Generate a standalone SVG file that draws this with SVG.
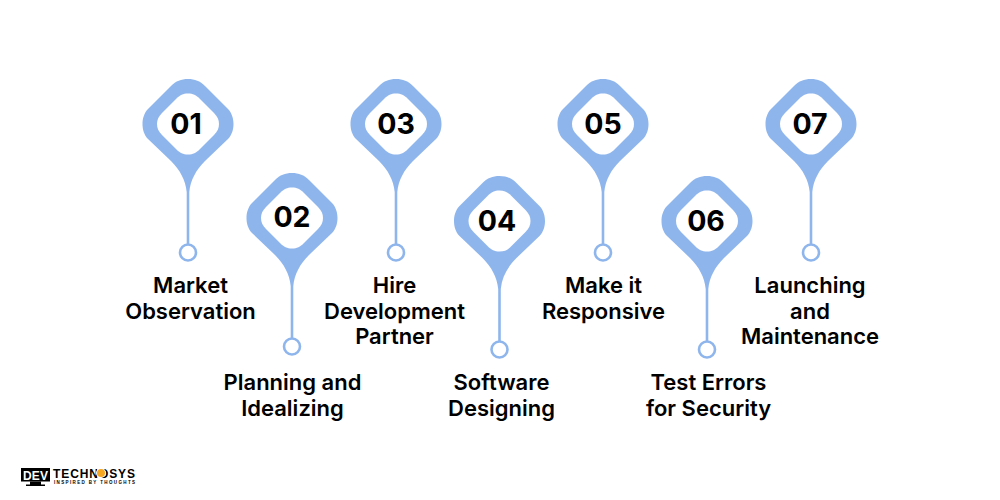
<svg xmlns="http://www.w3.org/2000/svg" width="1000" height="500" viewBox="0 0 1000 500">
<style>
.o{fill:#8fb6ec}
.i{fill:#fff}
.c{fill:#fff;stroke:#8fb6ec;stroke-width:2.6}
.n{font:700 28.500px "Inter","Liberation Sans",sans-serif;fill:#000;text-anchor:middle}
.t{font:600 22px "Inter","Liberation Sans",sans-serif;fill:#000;text-anchor:middle}
.l{font-family:"Liberation Sans",sans-serif;font-weight:700;fill:#000}
</style>
<defs>
<g id="pin">
<path class="o" d="M0,-45C7,-45 12,-43 17,-38L40,-15C44,-11 45.5,-5 45.5,0C45.5,5 44,11 40,15L17,37C8,46 2.500,56 1.300,68L1.300,122L-1.300,122L-1.300,68C-2.500,56 -8,46 -17,37L-40,15C-44,11 -45.500,5 -45.500,0C-45.500,-5 -44,-11 -40,-15L-17,-38C-12,-43 -7,-45 0,-45Z"/>
<path class="i" d="M0,-30.500C5,-30.500 8,-29 12,-25L26,-11C29.500,-7.500 31,-4 31,0C31,4 29.500,7.500 26,11L12,25C8,29 5,30.500 0,30.500C-5,30.500 -8,29 -12,25L-26,11C-29.500,7.500 -31,4 -31,0C-31,-4 -29.500,-7.500 -26,-11L-12,-25C-8,-29 -5,-30.500 0,-30.500Z"/>
<circle class="c" cy="128.500" r="8"/>
</g>
</defs>
<g id="connectors"/>
<g id="node-01"><use href="#pin" x="188" y="124"/><text class="n" x="186" y="134">01</text><text class="t" x="190.500" y="293">Market</text><text class="t" x="190.500" y="318.500">Observation</text></g>
<g id="node-02"><use href="#pin" x="292" y="218"/><text class="n" x="292" y="227">02</text><text class="t" x="292.500" y="390">Planning and</text><text class="t" x="292.500" y="415.500">Idealizing</text></g>
<g id="node-03"><use href="#pin" x="396" y="124"/><text class="n" x="396" y="134">03</text><text class="t" x="394.500" y="293">Hire</text><text class="t" x="394.500" y="318.500">Development</text><text class="t" x="394.500" y="344">Partner</text></g>
<g id="node-04"><use href="#pin" x="499.500" y="221"/><text class="n" x="497" y="231">04</text><text class="t" x="501.500" y="390">Software</text><text class="t" x="501.500" y="415.500">Designing</text></g>
<g id="node-05"><use href="#pin" x="603" y="124"/><text class="n" x="603" y="134">05</text><text class="t" x="603.500" y="293">Make it</text><text class="t" x="603.500" y="318.500">Responsive</text></g>
<g id="node-06"><use href="#pin" x="707" y="221"/><text class="n" x="706" y="231">06</text><text class="t" x="708.500" y="390">Test Errors</text><text class="t" x="708.500" y="415.500">for Security</text></g>
<g id="node-07"><use href="#pin" x="811" y="124"/><text class="n" x="810" y="134">07</text><text class="t" x="810" y="293">Launching</text><text class="t" x="810" y="318.500">and</text><text class="t" x="810" y="344">Maintenance</text></g>
<g id="logo">
<rect x="21" y="468" width="29" height="13.500" fill="#000"/>
<text x="23" y="479.500" font-family="Liberation Sans,sans-serif" font-weight="700" font-size="12" fill="#fff" textLength="25">DEV</text>
<path d="M30,481.500h11v3h4v1.500h-19v-1.500h4z" fill="#000"/>
<text class="l" x="53" y="478" font-size="12" textLength="82">TECHNOSYS</text>
<circle cx="101" cy="473" r="5" fill="#fff"/>
<circle cx="101" cy="473" r="4" fill="#f5a623"/>
<text class="l" x="54" y="484" font-size="4.500" textLength="81">INSPIRED BY THOUGHTS</text>
</g>
</svg>
